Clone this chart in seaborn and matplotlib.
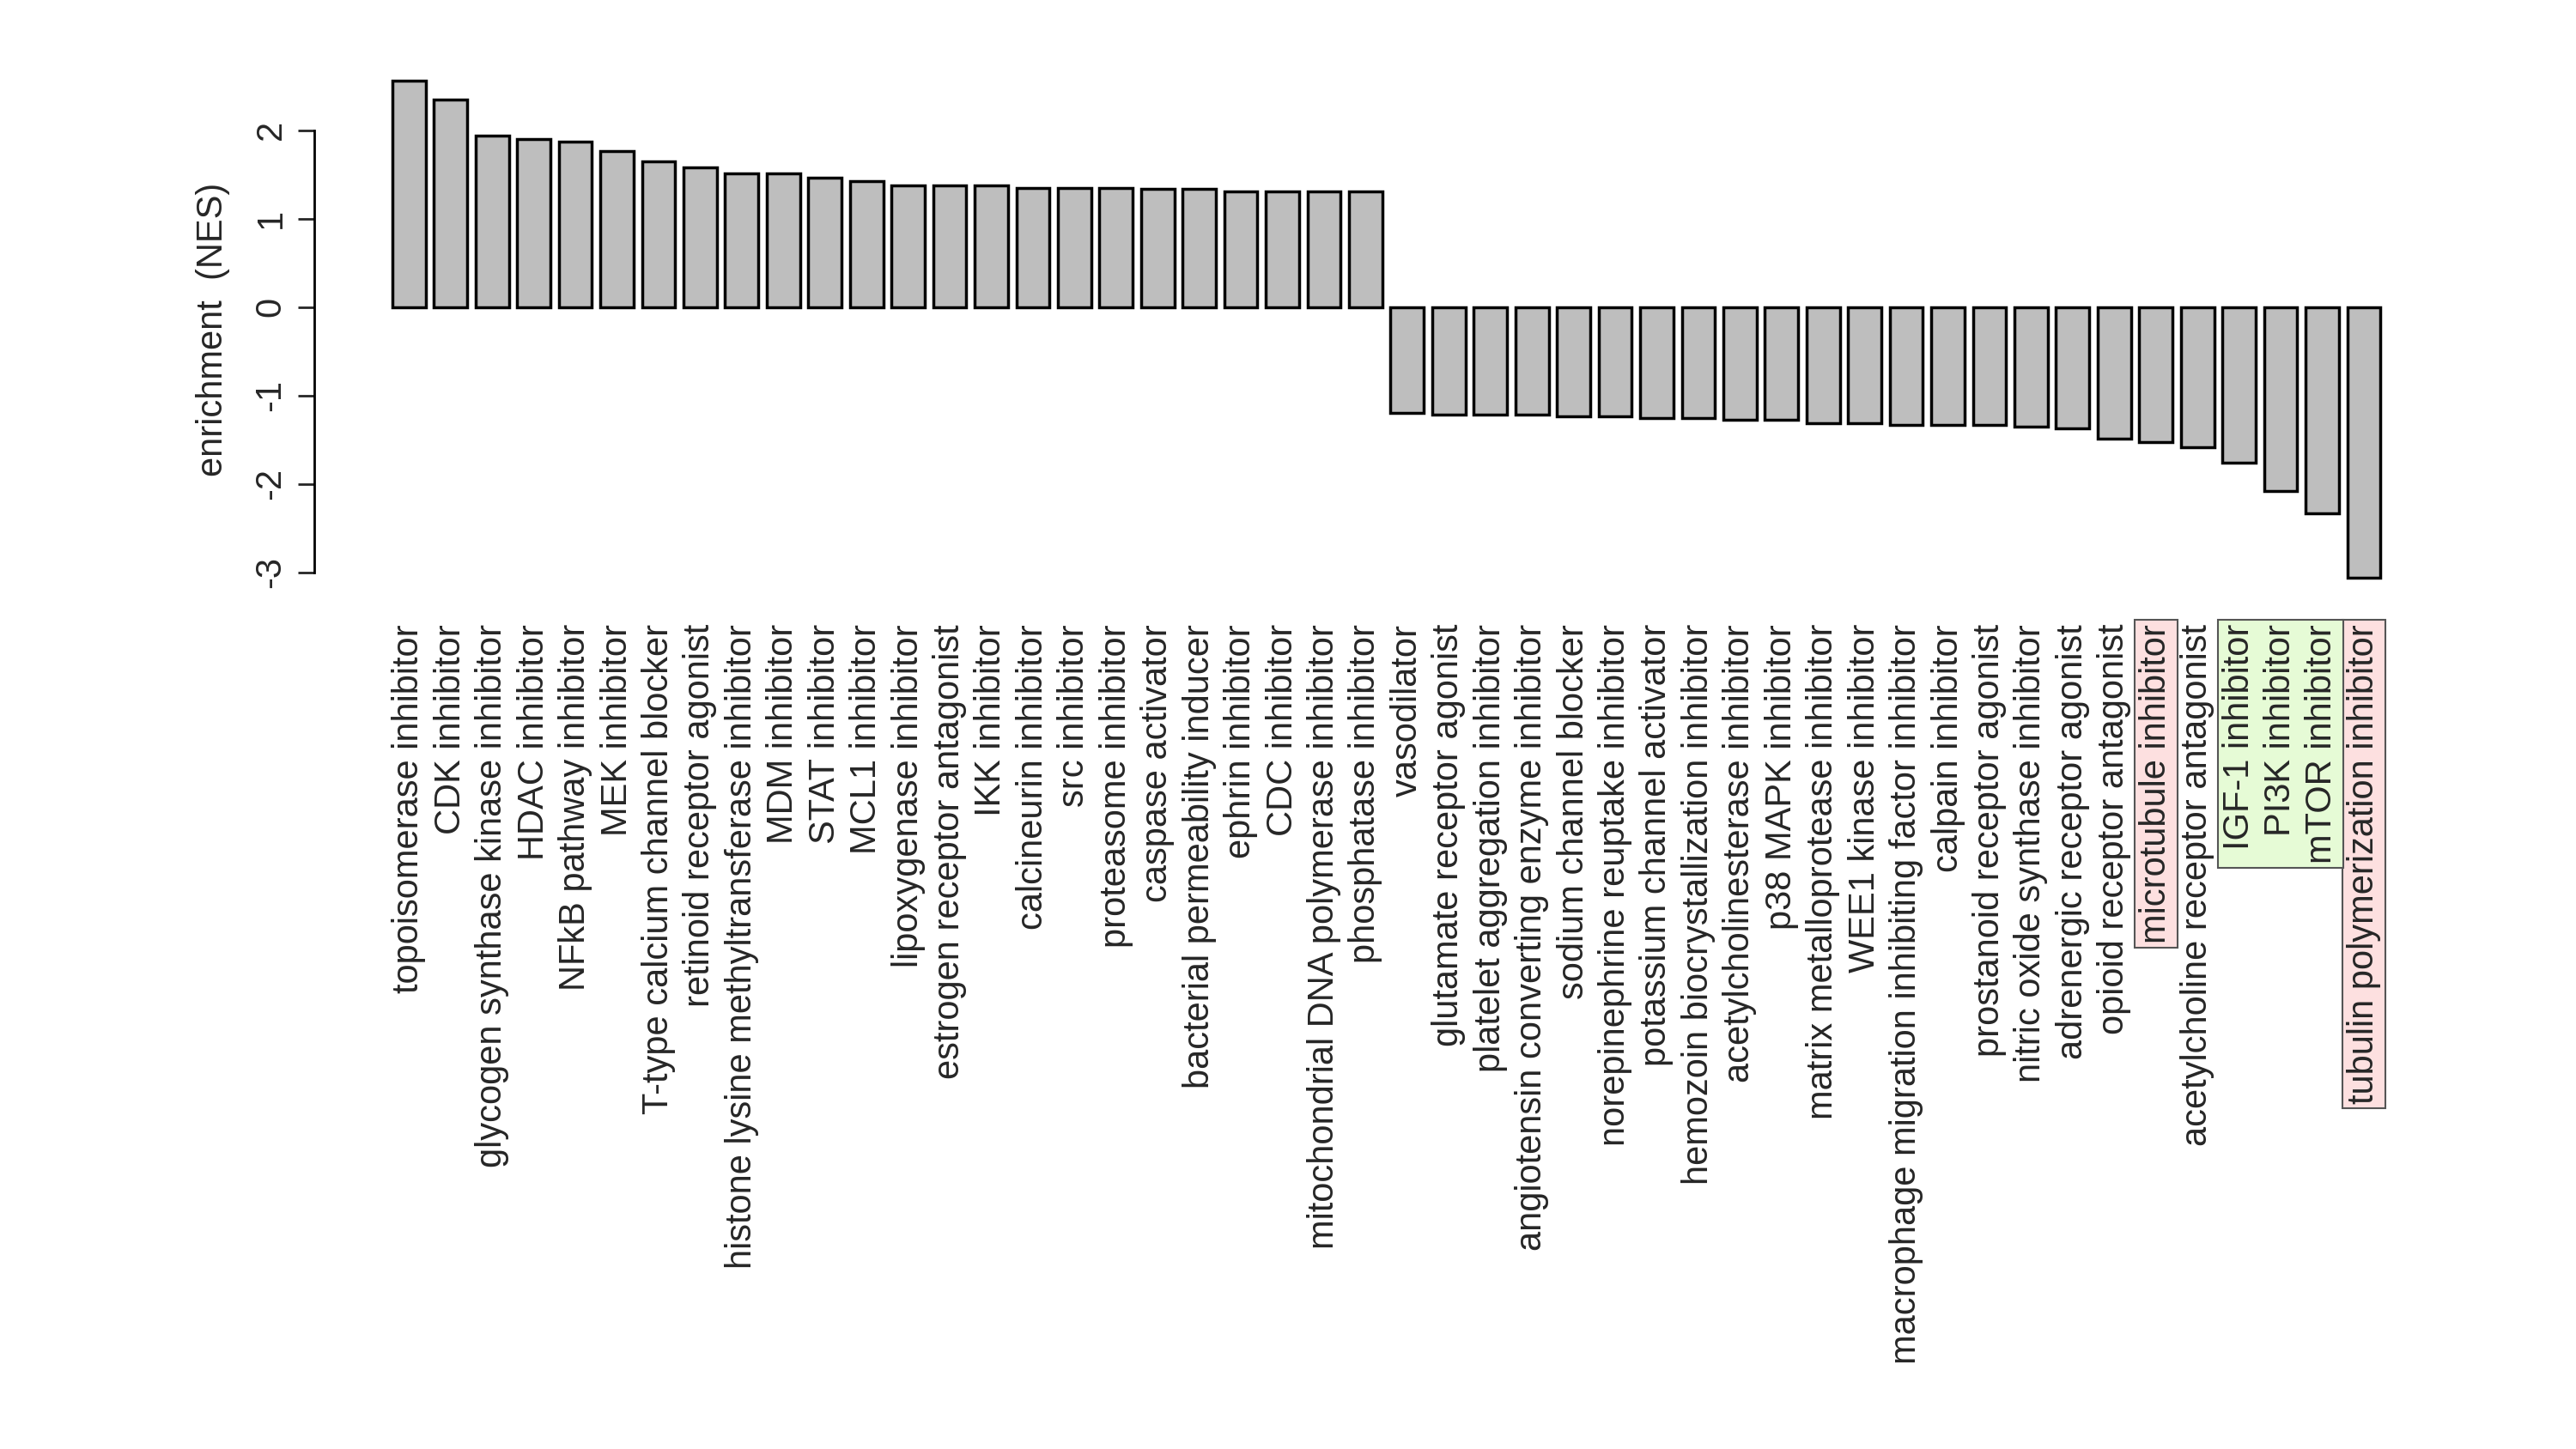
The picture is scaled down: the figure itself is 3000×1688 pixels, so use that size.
import matplotlib
matplotlib.use("Agg")
import matplotlib.pyplot as plt
import seaborn as sns
import pandas as pd
from matplotlib.patches import Rectangle
from matplotlib.transforms import Bbox

categories = ["topoisomerase inhibitor","CDK inhibitor","glycogen synthase kinase inhibitor","HDAC inhibitor",
"NFkB pathway inhibitor","MEK inhibitor","T-type calcium channel blocker","retinoid receptor agonist",
"histone lysine methyltransferase inhibitor","MDM inhibitor","STAT inhibitor","MCL1 inhibitor",
"lipoxygenase inhibitor","estrogen receptor antagonist","IKK inhibitor","calcineurin inhibitor","src inhibitor",
"proteasome inhibitor","caspase activator","bacterial permeability inducer","ephrin inhibitor","CDC inhibitor",
"mitochondrial DNA polymerase inhibitor","phosphatase inhibitor","vasodilator","glutamate receptor agonist",
"platelet aggregation inhibitor","angiotensin converting enzyme inhibitor","sodium channel blocker",
"norepinephrine reuptake inhibitor","potassium channel activator","hemozoin biocrystallization inhibitor",
"acetylcholinesterase inhibitor","p38 MAPK inhibitor","matrix metalloprotease inhibitor","WEE1 kinase inhibitor",
"macrophage migration inhibiting factor inhibitor","calpain inhibitor","prostanoid receptor agonist",
"nitric oxide synthase inhibitor","adrenergic receptor agonist","opioid receptor antagonist",
"microtubule inhibitor","acetylcholine receptor antagonist","IGF-1 inhibitor","PI3K inhibitor","mTOR inhibitor",
"tubulin polymerization inhibitor"]
nes = [2.56,2.35,1.94,1.90,1.87,1.76,1.65,1.58,1.51,1.51,1.46,1.42,1.38,1.38,1.38,1.35,1.35,1.35,1.34,1.34,
       1.31,1.31,1.31,1.31,
       -1.20,-1.22,-1.22,-1.22,-1.24,-1.24,-1.26,-1.26,-1.28,-1.28,-1.31,-1.31,-1.33,-1.33,-1.33,-1.35,-1.37,
       -1.49,-1.53,-1.59,-1.76,-2.08,-2.33,-3.06]
pink_groups = [["microtubule inhibitor"], ["tubulin polymerization inhibitor"]]
green_groups = [["IGF-1 inhibitor","PI3K inhibitor","mTOR inhibitor"]]

df = pd.DataFrame({"moa": categories, "nes": nes})
sns.set_style("white")
plt.rcParams['font.family'] = ['Liberation Sans', 'DejaVu Sans']
plt.rcParams['axes.unicode_minus'] = False

fig = plt.figure(figsize=(30, 16.88), dpi=100)
ax = fig.add_axes([0.1507, 0.599, 0.775, 0.3477])
sns.barplot(data=df, x="moa", y="nes", color="#bebebe", edgecolor="black", linewidth=2.5,
            width=0.8, saturation=1, ax=ax)
ax.set_xlim(-0.5, len(categories) - 0.5)
ax.set_ylim(-3.1, 2.6)
for s in ["top", "right", "bottom"]:
    ax.spines[s].set_visible(False)
ax.spines["left"].set_bounds(-3, 2)
ax.spines["left"].set_position(("outward", 62))
ax.spines["left"].set_linewidth(2)
ax.spines["left"].set_color("black")
ax.set_yticks([-3, -2, -1, 0, 1, 2])
ax.tick_params(axis="y", length=14, width=2, labelsize=30, labelrotation=90, pad=8, left=True)
for t in ax.get_yticklabels():
    t.set_va("center")
ax.tick_params(axis="x", length=0, labelsize=30, pad=36)
ax.set_xticks(range(len(categories)))
ax.set_xticklabels(categories, rotation=90, va="top", ha="center")
ax.set_xlabel("")
ax.set_ylabel("enrichment  (NES)", fontsize=30, labelpad=20)

fig.canvas.draw()
r = fig.canvas.get_renderer()
labels = {t.get_text(): t for t in ax.get_xticklabels()}
def box(group, fc):
    bbs = [labels[g].get_window_extent(r) for g in group]
    bb = Bbox.union(bbs)
    pad = 5
    rect = Rectangle((bb.x0 - pad, bb.y0 - pad), bb.width + 2 * pad, bb.height + 2 * pad,
                     transform=None, facecolor=fc, edgecolor="#555555", linewidth=1.5,
                     zorder=-1, clip_on=False)
    ax.add_artist(rect)
for g in pink_groups:
    box(g, "#fde0e0")
for g in green_groups:
    box(g, "#e6fbd6")

fig.savefig("out.png", dpi=100, facecolor="white")
